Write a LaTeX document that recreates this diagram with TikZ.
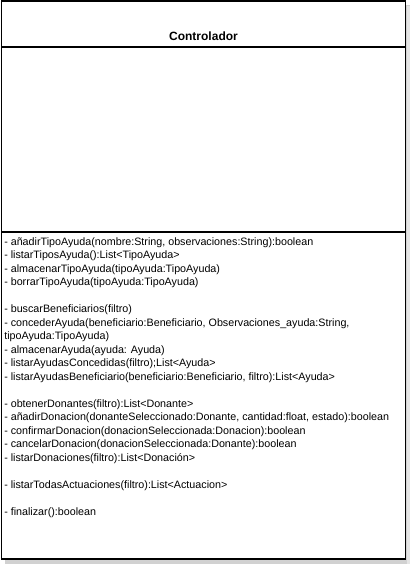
\documentclass[tikz,border=0pt]{standalone}
\usepackage{fontspec}
\setmainfont{Liberation Sans}
\begin{document}
\begin{tikzpicture}[x=0.75pt,y=-0.75pt,
  mtext/.style={anchor=base west,inner sep=0pt,font=\fontsize{8.05pt}{10pt}\selectfont},
  ttext/.style={anchor=center,inner sep=0pt,font=\fontsize{9pt}{11pt}\selectfont\bfseries},
  boxline/.style={draw=black,line width=0.9pt}]
\useasboundingbox (0,0) rectangle (410,564);
% shadow
\fill[black!18] (5,5) rectangle (409.5,563.5);
\fill[black!10] (407,6) rectangle (410,564);
% class box
\draw[boxline,fill=white] (1.5,1) rectangle (405.5,559);
\draw[boxline] (1.5,47) -- (405.5,47);
\draw[boxline] (1.5,232) -- (405.5,232);
\node[ttext] (title) at (203.5,36) {Controlador};
\foreach \yy/\mt [count=\i] in {
 245/{- añadirTipoAyuda(nombre:String, observaciones:String):boolean},
 258.5/{- listarTiposAyuda():List<TipoAyuda>},
 272/{- almacenarTipoAyuda(tipoAyuda:TipoAyuda)},
 285.5/{- borrarTipoAyuda(tipoAyuda:TipoAyuda)},
 312.5/{- buscarBeneficiarios(filtro)},
 326/{- concederAyuda(beneficiario:Beneficiario, Observaciones\_ayuda:String,},
 339.5/{tipoAyuda:TipoAyuda)},
 353/{- almacenarAyuda(ayuda: Ayuda)},
 366.5/{- listarAyudasConcedidas(filtro);List<Ayuda>},
 380/{- listarAyudasBeneficiario(beneficiario:Beneficiario, filtro):List<Ayuda>},
 407/{- obtenerDonantes(filtro):List<Donante>},
 420.5/{- añadirDonacion(donanteSeleccionado:Donante, cantidad:float, estado):boolean},
 434/{- confirmarDonacion(donacionSeleccionada:Donacion):boolean},
 447.5/{- cancelarDonacion(donacionSeleccionada:Donante):boolean},
 461/{- listarDonaciones(filtro):List<Donación>},
 488/{- listarTodasActuaciones(filtro):List<Actuacion>},
 515/{- finalizar():boolean}}
 \node[mtext] (m\i) at (4,\yy) {\mt};
\end{tikzpicture}
\end{document}
